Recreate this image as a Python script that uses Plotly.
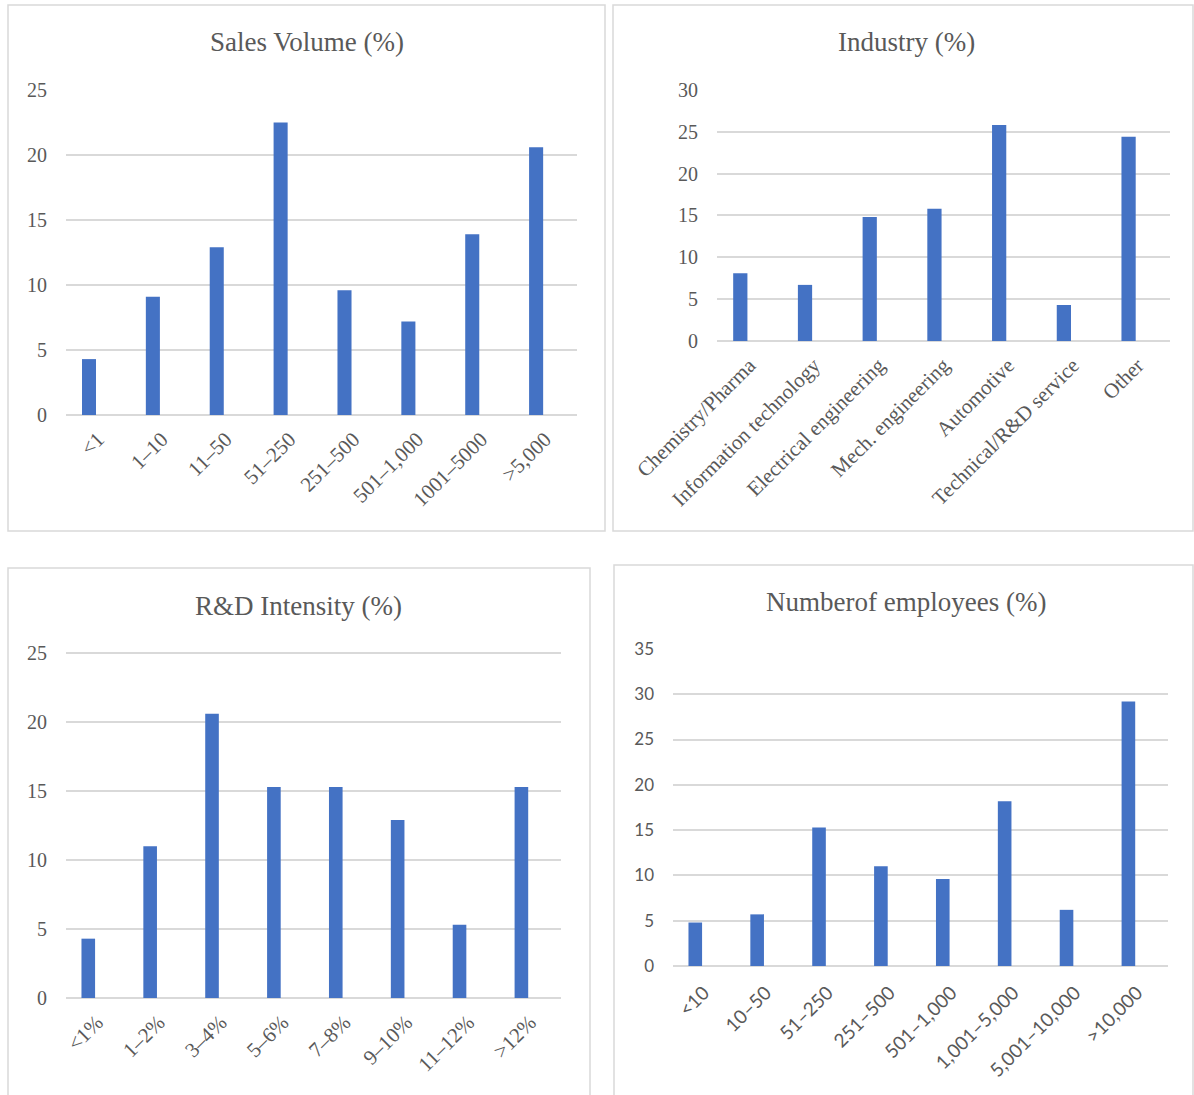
import plotly.graph_objects as go

# ---------------- data ----------------
sales_categories = ["<1", "1–10", "11–50", "51–250", "251–500", "501–1,000", "1001–5000", ">5,000"]
sales_values = [4.3, 9.1, 12.9, 22.5, 9.6, 7.2, 13.9, 20.6]

industry_categories = ["Chemistry/Pharma", "Information technology", "Electrical engineering",
                       "Mech. engineering", "Automotive", "Technical/R&D service", "Other"]
industry_values = [8.1, 6.7, 14.8, 15.8, 25.8, 4.3, 24.4]

rd_categories = ["<1%", "1–2%", "3–4%", "5–6%", "7–8%", "9–10%", "11–12%", ">12%"]
rd_values = [4.3, 11.0, 20.6, 15.3, 15.3, 12.9, 5.3, 15.3]

employee_categories = ["<10", "10–50", "51–250", "251–500", "501–1,000", "1,001–5,000",
                       "5,001–10,000", ">10,000"]
employee_values = [4.8, 5.7, 15.3, 11.0, 9.6, 18.2, 6.2, 29.2]

titles = ["Sales Volume (%)", "Industry (%)", "R&D Intensity (%)", "Numberof employees (%)"]
y_max = [25, 30, 25, 35]

# ---------------- layout ----------------
W, H = 1194, 1095
SERIF = "Liberation Serif, Times New Roman, serif"
SANS = "Lato, Calibri, sans-serif"
TXT = "#595959"
GRID = "#d9d9d9"
BAR = "#4472C4"


def fx(x):
    return x / W


def fy(y):
    return 1 - y / H


panels = [
    dict(cats=sales_categories, vals=sales_values, box=(8, 5, 605, 531), plot=(66, 89, 577, 415),
         title_xy=(307, 42), font=SERIF, ysize=20, xsize=21, xstand=7),
    dict(cats=industry_categories, vals=industry_values, box=(613, 5, 1193, 531), plot=(717, 89, 1170, 341),
         title_xy=(906, 42), font=SERIF, ysize=20, xsize=21, xstand=7),
    dict(cats=rd_categories, vals=rd_values, box=(8, 568, 590, 1100), plot=(66, 652, 561, 998),
         title_xy=(298, 606), font=SERIF, ysize=20, xsize=21, xstand=7),
    dict(cats=employee_categories, vals=employee_values, box=(614, 565, 1193, 1100), plot=(673, 648, 1168, 966),
         title_xy=(906, 602), font=SANS, ysize=17, xsize=19, xstand=11),
]

fig = go.Figure()
shapes = []
annotations = []
layout_axes = {}

for i, p in enumerate(panels):
    idx = "" if i == 0 else str(i + 1)
    fig.add_trace(go.Bar(
        x=p["cats"], y=p["vals"], xaxis="x" + idx, yaxis="y" + idx,
        marker=dict(color=BAR, line=dict(width=0)),
        width=0.22, offset=-0.25, showlegend=False, hoverinfo="x+y",
    ))
    x0, y0, x1, y1 = p["plot"]
    ymax = y_max[i]
    layout_axes["xaxis" + idx] = dict(
        domain=[fx(x0), fx(x1)], anchor="y" + idx, type="category",
        range=[-0.5, len(p["cats"]) - 0.5], automargin=False,
        tickangle=-45, showgrid=False, showline=False, zeroline=False, ticks="",
        tickfont=dict(family=p["font"], size=p["xsize"], color=TXT),
        ticklabelstandoff=p["xstand"],
    )
    layout_axes["yaxis" + idx] = dict(
        domain=[fy(y1), fy(y0)], anchor="x" + idx, range=[0, ymax * 1.003], dtick=5,
        automargin=False,
        showgrid=True, gridcolor=GRID, gridwidth=1.5, zeroline=True, zerolinecolor=GRID,
        zerolinewidth=1.5, showline=False, ticks="",
        tickfont=dict(family=p["font"], size=p["ysize"], color=TXT),
        ticklabelstandoff=18,
    )
    bx0, by0, bx1, by1 = p["box"]
    shapes.append(dict(type="rect", xref="paper", yref="paper",
                       x0=fx(bx0), x1=fx(bx1), y0=fy(by1), y1=fy(by0),
                       line=dict(color=GRID, width=1.5), fillcolor="rgba(0,0,0,0)", layer="below"))
    tx, ty = p["title_xy"]
    annotations.append(dict(text=titles[i], x=fx(tx), y=fy(ty), xref="paper", yref="paper",
                            xanchor="center", yanchor="middle", showarrow=False,
                            font=dict(family=SERIF, size=27, color=TXT)))

fig.update_layout(
    width=W, height=H, margin=dict(l=0, r=0, t=0, b=0, pad=0), autosize=False,
    paper_bgcolor="white", plot_bgcolor="white",
    shapes=shapes, annotations=annotations, **layout_axes,
)

fig.write_html("out.html", config={"responsive": False, "displayModeBar": False},
               post_script="document.body.style.margin='0px';document.body.style.overflow='hidden';")
